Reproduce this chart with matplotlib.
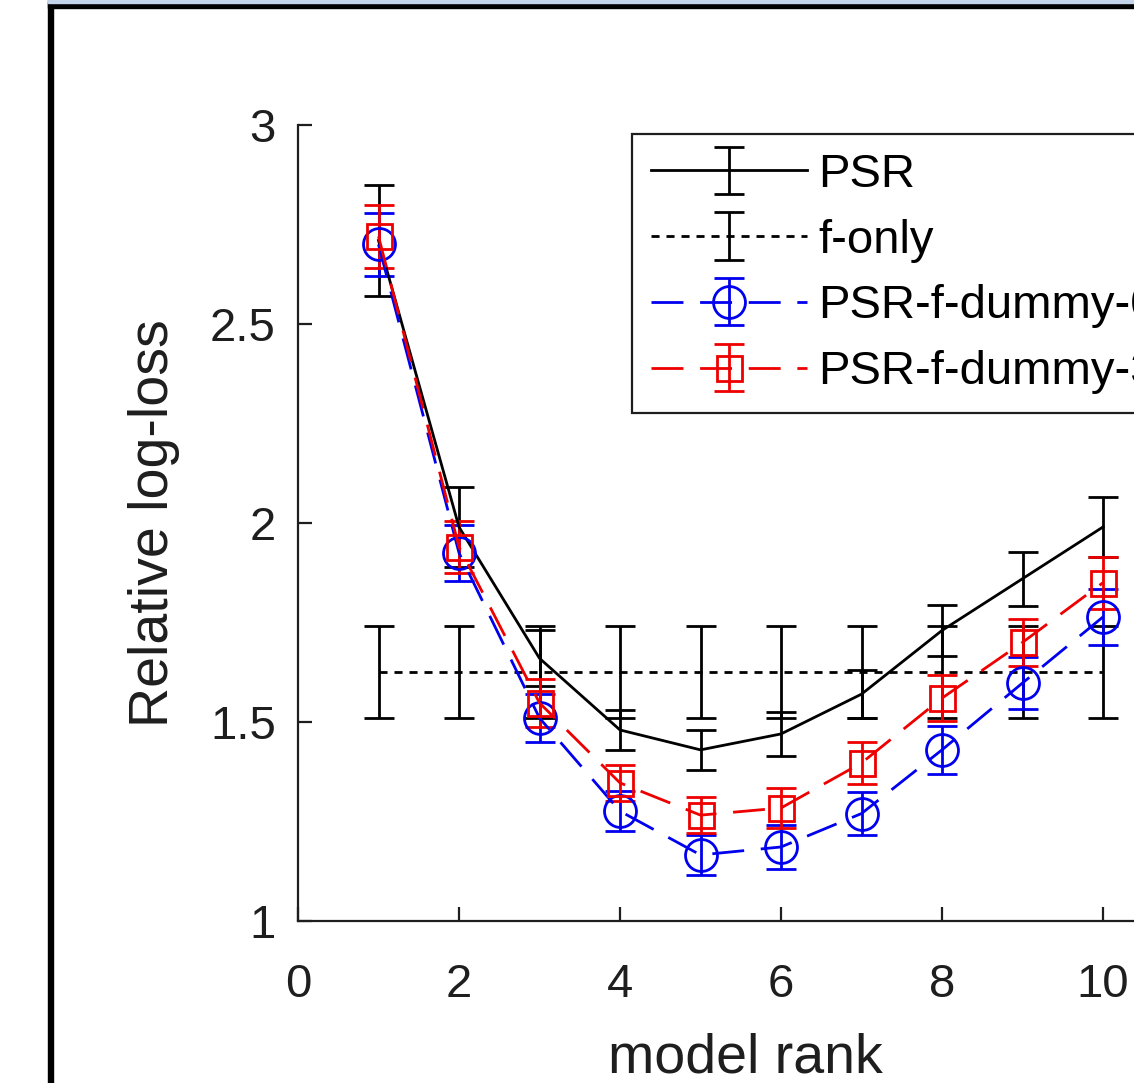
import numpy as np
import matplotlib
matplotlib.use("Agg")
import matplotlib.pyplot as plt
from matplotlib.patches import Rectangle

plt.rcParams['font.family'] = ['Liberation Sans', 'DejaVu Sans']

# values
rank = [1, 2, 3, 4, 5, 6, 7, 8, 9, 10]
psr = [2.71, 1.99, 1.66, 1.48, 1.43, 1.47, 1.57, 1.73, 1.86, 1.99]
psr_err = [0.14, 0.10, 0.07, 0.05, 0.05, 0.055, 0.06, 0.065, 0.068, 0.075]
f_only = [1.625, 1.625, 1.625, 1.625, 1.625, 1.625, 1.625, 1.625, 1.625, 1.625]
f_only_err = [0.115, 0.115, 0.115, 0.115, 0.115, 0.115, 0.115, 0.115, 0.115, 0.115]
dummy0 = [2.70, 1.925, 1.51, 1.276, 1.166, 1.186, 1.27, 1.43, 1.598, 1.764]
dummy0_err = [0.08, 0.07, 0.06, 0.05, 0.05, 0.055, 0.055, 0.06, 0.065, 0.07]
dummy3 = [2.72, 1.94, 1.548, 1.347, 1.266, 1.284, 1.397, 1.56, 1.70, 1.85]
dummy3_err = [0.08, 0.065, 0.06, 0.045, 0.045, 0.05, 0.052, 0.058, 0.06, 0.065]

xticks = [0, 2, 4, 6, 8, 10]
yticks = [1, 1.5, 2, 2.5, 3]
ytick_labels = ['1', '1.5', '2', '2.5', '3']

W, H = 1134, 1083
fig = plt.figure(figsize=(W / 100, H / 100), dpi=100)
fig.patch.set_facecolor('white')

# axes placed by pixels, runs past the right edge (picture is cropped)
ax_l, ax_b, ax_t = 298, 921, 125
ax = fig.add_axes([ax_l / W, (H - ax_b) / H, 11 * 80.5 / W, (ax_b - ax_t) / H])

lw = 2.0
tc = '#1e1e1e'
dash = (0, (11.5, 6))
dot = (0, (2.9, 2.5))

ax.errorbar(rank, psr, yerr=psr_err, color='black', lw=lw, capsize=11,
            elinewidth=lw, capthick=lw, label='PSR')
ax.errorbar(rank, f_only, yerr=f_only_err, color='black', lw=lw, ls=dot,
            capsize=11, elinewidth=lw, capthick=lw, label='f-only')
ax.errorbar(rank, dummy0, yerr=dummy0_err, color='#0000ee', lw=lw, ls=dash,
            marker='o', ms=23, mfc='none', mew=lw, capsize=11,
            elinewidth=lw, capthick=lw, label='PSR-f-dummy-0')
ax.errorbar(rank, dummy3, yerr=dummy3_err, color='#ee0000', lw=lw, ls=dash,
            marker='s', ms=18, mfc='none', mew=lw, capsize=11,
            elinewidth=lw, capthick=lw, label='PSR-f-dummy-3')

ax.set_xlim(0, 11)
ax.set_ylim(1, 3)
ax.set_xticks(xticks)
ax.set_yticks(yticks)
ax.set_yticklabels(ytick_labels)
ax.spines['top'].set_visible(False)
ax.spines['right'].set_visible(False)
for s in ['left', 'bottom']:
    ax.spines[s].set_linewidth(1.6)
    ax.spines[s].set_color(tc)
ax.tick_params(direction='in', length=10, width=1.6, colors=tc, labelsize=34)
ax.tick_params(axis='x', pad=30)
ax.tick_params(axis='y', pad=16)

ax.set_xlabel('model rank', fontsize=40, color=tc)
ax.set_ylabel('Relative log-loss', fontsize=40, color=tc)
ax.xaxis.set_label_coords(0.505, -0.14)
ax.yaxis.set_label_coords(-0.133, 0.5)

leg = ax.legend(loc='upper left', bbox_to_anchor=(334 / 885.5, (ax_b - 134) / (ax_b - ax_t)),
                borderaxespad=0, fontsize=34, frameon=True, fancybox=False,
                framealpha=1, edgecolor=tc, handlelength=3.3, handletextpad=0.25,
                labelspacing=0.46, borderpad=0.4)
leg.get_frame().set_linewidth(1.6)

# black frame and blue strip of the screenshot
fig.add_artist(Rectangle((48 / W, 0), 5 / W, 1, transform=fig.transFigure,
                         color='black', zorder=10))
fig.add_artist(Rectangle((48 / W, (H - 8) / H), 1, 5 / H, transform=fig.transFigure,
                         color='black', zorder=10))
fig.add_artist(Rectangle((48 / W, (H - 3) / H), 1, 3 / H, transform=fig.transFigure,
                         color='#c3d3ea', zorder=10))

fig.savefig('out.png', dpi=100)
